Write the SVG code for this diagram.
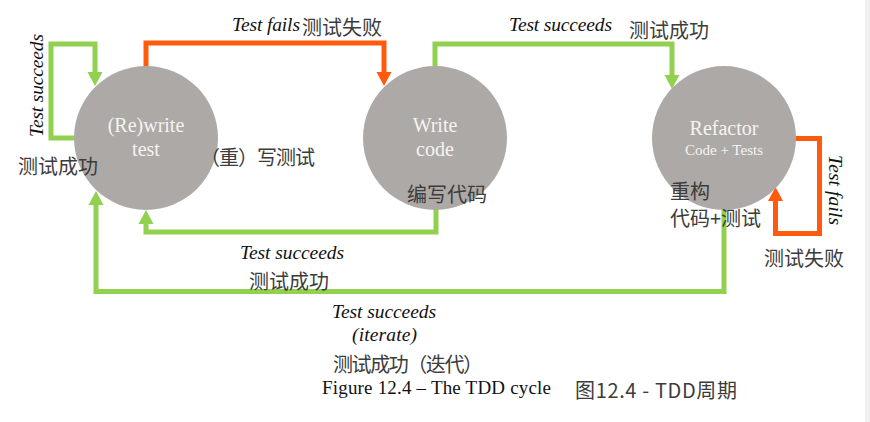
<svg xmlns="http://www.w3.org/2000/svg" width="870" height="422" viewBox="0 0 870 422">
<style>
.node circle{fill:#ADA9A6}
.in{font-family:"Liberation Serif",serif;fill:#F6F4F3;text-anchor:middle}
.lab{font-family:"Liberation Serif",serif;font-style:italic;font-size:19.5px;fill:#111}
.zh{font-family:"Noto Sans CJK SC","Noto Sans",sans-serif;font-size:20px;fill:#3c3c3c}
.g{fill:none;stroke:#92D050;stroke-width:5}
.o{fill:none;stroke:#FF5A0E;stroke-width:5}
</style>
<defs>
<marker id="ag" markerUnits="userSpaceOnUse" markerWidth="14" markerHeight="16" refX="0" refY="8" orient="auto"><path d="M0,0.5 L14,8 L0,15.5 z" fill="#92D050"/></marker>
<marker id="ao" markerUnits="userSpaceOnUse" markerWidth="14" markerHeight="16" refX="0" refY="8" orient="auto"><path d="M0,0.5 L14,8 L0,15.5 z" fill="#FF5A0E"/></marker>
</defs>
<rect x="0" y="0" width="870" height="422" fill="#fff"/>
<rect x="865" y="0" width="5" height="422" fill="#F0F0F0"/>
<g id="connectors">
<path class="g" d="M76,138 H51 V44 H95 V72" marker-end="url(#ag)"/>
<path class="o" d="M146,67 V43 H384 V72" marker-end="url(#ao)"/>
<path class="g" d="M435,67 V44 H672 V75" marker-end="url(#ag)"/>
<path class="o" d="M795,138.5 H819.5 V233.5 H775.5 V201" marker-end="url(#ao)"/>
<path class="g" d="M436,209 V232 H146 V224" marker-end="url(#ag)"/>
<path class="g" d="M724,209 V291.5 H96 V205" marker-end="url(#ag)"/>
</g>
<g id="node-rewrite" class="node">
<circle cx="146" cy="138" r="72"/>
<text class="in" x="146" y="132" font-size="20">(Re)write</text>
<text class="in" x="146" y="156" font-size="20">test</text>
</g>
<g id="node-write" class="node">
<circle cx="435" cy="138" r="72"/>
<text class="in" x="435" y="132" font-size="20">Write</text>
<text class="in" x="435" y="156" font-size="20">code</text>
</g>
<g id="node-refactor" class="node">
<circle cx="724" cy="138" r="72"/>
<text class="in" x="724" y="135" font-size="20">Refactor</text>
<text class="in" x="724" y="155" font-size="15">Code + Tests</text>
</g>
<g id="labels">
<text class="lab" x="232" y="31" textLength="68">Test fails</text>
<text class="zh" x="302" y="35">测试失败</text>
<text class="lab" x="509" y="31" textLength="103">Test succeeds</text>
<text class="zh" x="629" y="38">测试成功</text>
<text class="lab" transform="translate(43,137) rotate(-90)" textLength="103">Test succeeds</text>
<text class="zh" x="18" y="174">测试成功</text>
<text class="zh" x="200" y="165" textLength="115">（重）写测试</text>
<text class="zh" x="407" y="202">编写代码</text>
<text class="zh" x="670" y="199">重构</text>
<text class="zh" x="670" y="226">代码+测试</text>
<text class="lab" transform="translate(829,155) rotate(90)" textLength="70">Test fails</text>
<text class="zh" x="764" y="266">测试失败</text>
<text class="lab" x="240" y="259" textLength="104">Test succeeds</text>
<text class="zh" x="249" y="289">测试成功</text>
<text class="lab" x="332" y="318" textLength="104">Test succeeds</text>
<text class="lab" x="352" y="341" textLength="65">(iterate)</text>
<text class="zh" x="333" y="372" textLength="150">测试成功（迭代）</text>
<text x="322" y="394" font-family="Liberation Serif,serif" font-size="19" fill="#111" textLength="229">Figure 12.4 – The TDD cycle</text>
<text class="zh" x="575" y="398" font-size="19" fill="#333" textLength="162">图12.4 - TDD周期</text>
</g>
</svg>
